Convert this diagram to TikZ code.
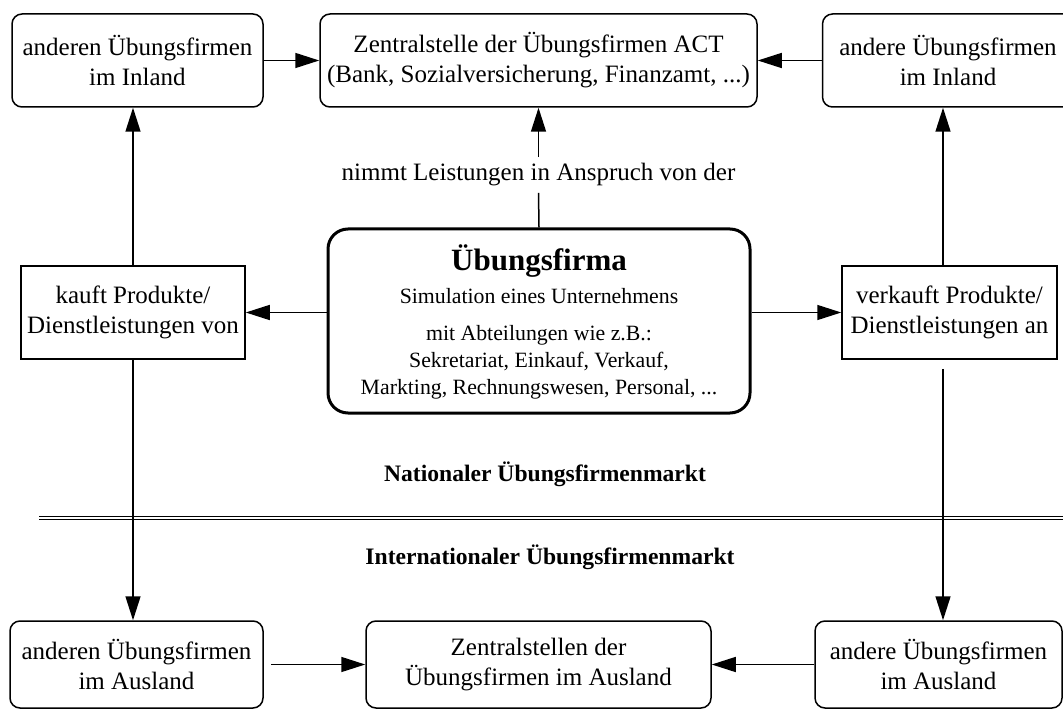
\documentclass[tikz,border=0pt]{standalone}
\usepackage{fontspec}
\setmainfont{Liberation Serif}
\usetikzlibrary{arrows.meta}
\begin{document}
\begin{tikzpicture}[x=0.5pt,y=-0.5pt,
  box/.style={draw, line width=0.75pt, rounded corners=5pt, align=center, inner sep=0pt,
    font=\fontsize{12.5}{15}\selectfont},
  sqbox/.style={draw, line width=0.75pt, align=center, inner sep=0pt,
    font=\fontsize{12.5}{15}\selectfont},
  mainbox/.style={draw, line width=1.5pt, rounded corners=10pt, inner sep=0pt},
  titletext/.style={inner sep=1pt, font=\fontsize{15.5}{18}\selectfont\bfseries},
  innertext/.style={inner sep=1pt, align=center, font=\fontsize{10.9}{13.5}\selectfont},
  lbl/.style={inner sep=3pt, font=\fontsize{12.5}{15}\selectfont},
  mkt/.style={inner sep=1pt, font=\fontsize{11.8}{14}\selectfont\bfseries},
  conn/.style={line width=0.75pt},
  arr/.style={conn, -{Triangle[length=12pt,width=7.5pt]}},
]
\useasboundingbox (0,0) rectangle (1063,710);

% top row
\node[box, minimum width=125.5pt, minimum height=46.5pt] (tl) at (137.5,60.5) {anderen Übungsfirmen\\im Inland};
\node[box, minimum width=218.5pt, minimum height=46.5pt] (tc) at (538.5,60.5) {Zentralstelle der Übungsfirmen ACT\\(Bank, Sozialversicherung, Finanzamt, ...)};
\node[box, minimum width=125.5pt, minimum height=46.5pt] (tr) at (948,60.5) {andere Übungsfirmen\\im Inland};

% middle row
\node[sqbox, minimum width=112pt, minimum height=46.5pt] (kauft) at (133,312.5) {kauft Produkte/\\Dienstleistungen von};
\node[sqbox, minimum width=107.5pt, minimum height=46.5pt] (verkauft) at (949.5,312.5) {verkauft Produkte/\\Dienstleistungen an};
\node[mainbox, minimum width=211pt, minimum height=92pt] (firma) at (539,321) {};
\node[titletext] (ft) at (539,261.5) {Übungsfirma};
\node[innertext] (f1) at (539,296) {Simulation eines Unternehmens};
\node[innertext] (f2) at (539,362) {mit Abteilungen wie z.B.:\\Sekretariat, Einkauf, Verkauf,\\Markting, Rechnungswesen, Personal, ...};

\node[lbl] (nimmt) at (538.5,175) {nimmt Leistungen in Anspruch von der};

% markets
\node[mkt] (nat) at (545,474) {Nationaler Übungsfirmenmarkt};
\node[mkt] (int) at (550,557) {Internationaler Übungsfirmenmarkt};
\coordinate (dl) at (39,518);
\coordinate (dr) at (1075,518);
\draw[double, double distance=1.2pt, line width=0.6pt] (dl) -- (dr);

% bottom row
\node[box, minimum width=126.5pt, minimum height=43.5pt] (bl) at (136.5,664.5) {anderen Übungsfirmen\\im Ausland};
\node[box, minimum width=172.5pt, minimum height=43.5pt] (bc) at (538.5,664.5) {Zentralstellen der\\Übungsfirmen im Ausland};
\node[box, minimum width=123.5pt, minimum height=43.5pt] (br) at (938.5,664.5) {andere Übungsfirmen\\im Ausland};

% connectors
\draw[arr] (tl.east) -- (tc.west);
\draw[arr] (tr.west) -- (tc.east);
\draw[arr] (kauft.north) -- (kauft.north |- tl.south);
\draw[arr] (kauft.south) -- (kauft.south |- bl.north);
\draw[arr] (kauft.east -| firma.west) -- (kauft.east);
\draw[arr] (verkauft.west -| firma.east) -- (verkauft.west);
\coordinate (rx) at (943,0);
\draw[arr] (verkauft.north -| rx) -- (tr.south -| rx);
\coordinate (rgap) at (943,369);
\draw[arr] (rgap) -- (rgap |- br.north);
\draw[conn] (firma.north) -- (nimmt.south);
\draw[arr] (nimmt.north) -- (tc.south);
\coordinate (bgap) at (271,664.5);
\draw[arr] (bgap) -- (bc.west);
\draw[arr] (br.west) -- (bc.east);
\end{tikzpicture}
\end{document}
